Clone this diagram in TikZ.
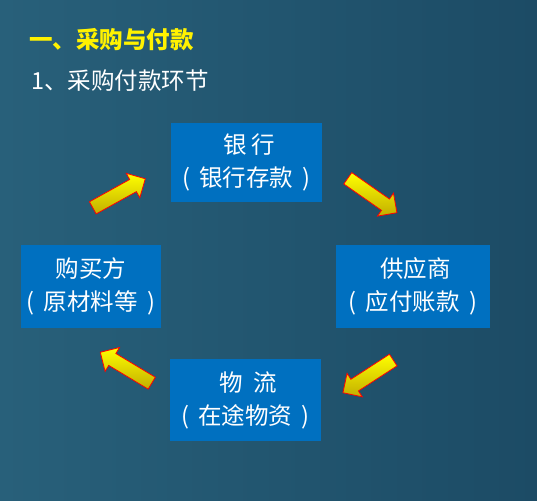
\documentclass[tikz,border=0pt]{standalone}
\usepackage{fontspec}
\setmainfont{Noto Sans CJK SC}
\usetikzlibrary{shapes.arrows}
\definecolor{bgleft}{HTML}{28607A}
\definecolor{bgright}{HTML}{1C4B65}
\definecolor{boxblue}{HTML}{0070C0}
\definecolor{arrowdark}{HTML}{C2AE00}
\newcommand{\paren}[1]{(\hspace{0.4em}#1\hspace{0.4em})}
\tikzset{
	box/.style={fill=boxblue, text=white, align=center, inner sep=0pt, font=\fontsize{23.5}{33}\selectfont},
	blockarrow/.style={single arrow, draw=red, line width=0.8pt, top color=yellow, bottom color=arrowdark,
		minimum height=60pt, minimum width=28pt, inner sep=6.5pt, single arrow head extend=7pt}
}
\begin{document}
\begin{tikzpicture}[x=1pt, y=-1pt]
	\shade[left color=bgleft, right color=bgright] (0,0) rectangle (537,500);
	\useasboundingbox (0,0) rectangle (537,500);
	\node[anchor=west, inner sep=0pt, text=yellow, font=\fontsize{23.5}{26}\selectfont\bfseries] (title) at (29,40) {一、采购与付款};
	\node[anchor=west, inner sep=0pt, text=white, font=\fontsize{23.5}{26}\selectfont] (sub) at (31,81) {1、采购付款环节};
	\node[box, minimum width=151pt, minimum height=79pt] (bank) at (246.5,162.5) {\ 银\ 行\\\paren{银行存款}};
	\node[box, minimum width=154pt, minimum height=83pt] (supplier) at (413,286.5) {\ 供应商\\\paren{应付账款}};
	\node[box, minimum width=140pt, minimum height=83pt] (buyer) at (91,286.5) {购买方\\\paren{原材料等}};
	\node[box, minimum width=151pt, minimum height=82pt] (logistics) at (245.5,400) {\ 物\ \ 流\\\paren{在途物资}};
	\node[blockarrow, rotate=29] (a1) at (116,195) {};
	\node[blockarrow, rotate=-35] (a2) at (369.5,193.5) {};
	\node[blockarrow, rotate=213] (a3) at (371,374.5) {};
	\node[blockarrow, rotate=149] (a4) at (129,369.5) {};
\end{tikzpicture}
\end{document}
